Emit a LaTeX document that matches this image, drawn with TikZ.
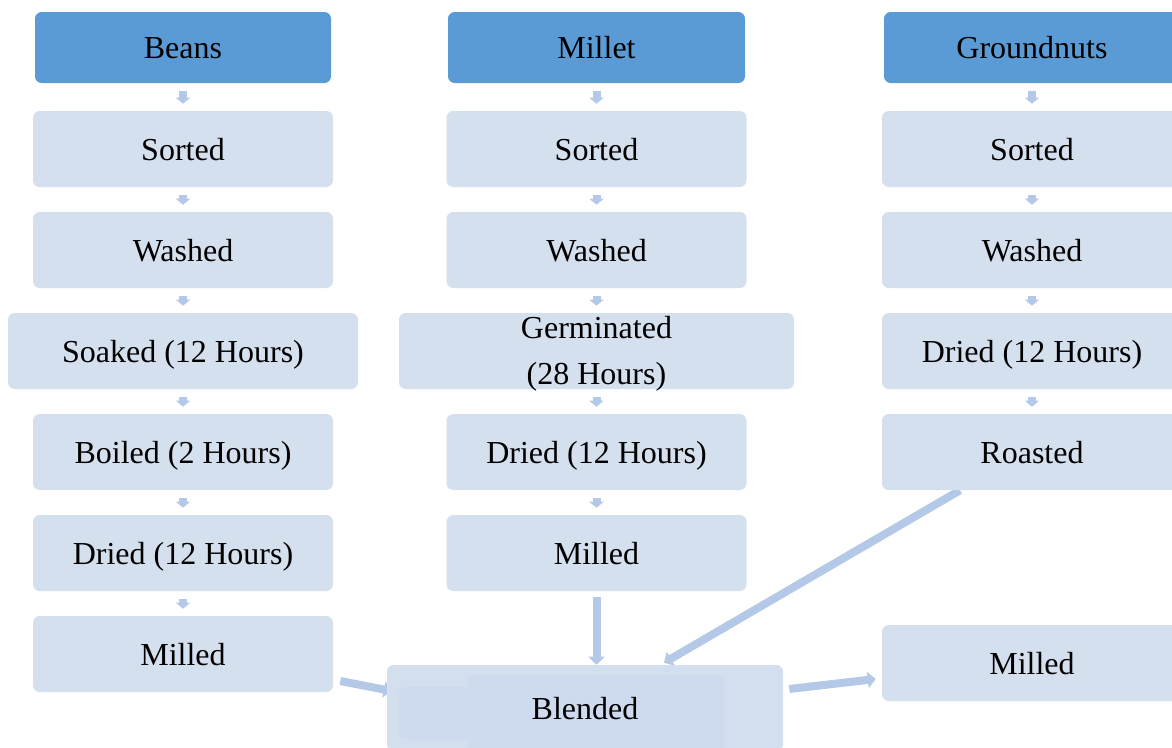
\documentclass[tikz,border=0pt]{standalone}
\usepackage{fontspec}
\setmainfont{Liberation Serif}
\usetikzlibrary{arrows.meta,backgrounds}
\definecolor{hdr}{HTML}{5B9BD5}
\definecolor{lite}{HTML}{D5E0EF}
\definecolor{arr}{HTML}{B4C8E7}
\definecolor{blendA}{HTML}{D3DEEF}
\definecolor{blendB}{HTML}{CEDAED}
\begin{document}
\begin{tikzpicture}[x=0.75pt,y=-0.75pt,
  base/.style={rounded corners=5pt, inner sep=0pt, align=center,
    font=\fontsize{24}{34.5}\selectfont, text=black},
  one/.style={text height=16.5pt, text depth=0pt},
  hbox/.style={base, one, fill=hdr, minimum width=222pt, minimum height=53.25pt},
  sbox/.style={base, one, fill=lite, minimum width=225pt, minimum height=57pt},
  sarrow/.style={draw=arr, line width=6pt, -{Triangle[width=10.5pt,length=4.5pt]},
    shorten <=6pt, shorten >=5.25pt},
  big/.style={draw=arr, line width=6pt, -{Triangle[width=12pt,length=6pt]}}]
\useasboundingbox (0,0) rectangle (1172,747);
% Beans column
\node[hbox] (b0) at (183,47.5) {Beans};
\node[sbox] (b1) at (183,149) {Sorted};
\node[sbox] (b2) at (183,250) {Washed};
\node[sbox, minimum width=262.5pt] (b3) at (183,351) {Soaked (12 Hours)};
\node[sbox] (b4) at (183,452) {Boiled (2 Hours)};
\node[sbox] (b5) at (183,553) {Dried (12 Hours)};
\node[sbox] (b6) at (183,654) {Milled};
% Millet column
\node[hbox, minimum width=222.75pt] (m0) at (596.5,47.5) {Millet};
\node[sbox] (m1) at (596.5,149) {Sorted};
\node[sbox] (m2) at (596.5,250) {Washed};
\node[sbox, minimum width=296.25pt] (m3) at (596.5,351) {};
\node[base] (m3t) at (596.5,354) {Germinated\\(28 Hours)};
\node[sbox] (m4) at (596.5,452) {Dried (12 Hours)};
\node[sbox] (m5) at (596.5,553) {Milled};
% Groundnuts column
\node[hbox] (g0) at (1032,47.5) {Groundnuts};
\node[sbox] (g1) at (1032,149) {Sorted};
\node[sbox] (g2) at (1032,250) {Washed};
\node[sbox] (g3) at (1032,351) {Dried (12 Hours)};
\node[sbox] (g4) at (1032,452) {Roasted};
\node[sbox] (gm) at (1032,663) {Milled};
% Blended
\node[base, fill=blendA, minimum width=297pt, minimum height=64.5pt] (blend) at (585,708) {};
\fill[blendB, rounded corners=5pt] (399,687) rectangle (700,739);
\fill[blendB, rounded corners=5pt] (468,675) rectangle (724,775);
\node[base, one] (blendtext) at (blend.center) {Blended};
% small step arrows
\foreach \a/\b in {b0/b1,b1/b2,b2/b3,b3/b4,b4/b5,b5/b6,
                   m0/m1,m1/m2,m2/m3,m3/m4,m4/m5,
                   g0/g1,g1/g2,g2/g3,g3/g4}
  \draw[sarrow] (\a) -- (\b);
% main connectors
\begin{scope}[on background layer]
\draw[big] ([shift={(7,27)}]b6.east) -- ([shift={(5,-17)}]blend.west);
\draw[big] ([shift={(0,6)}]m5.south) -- (m5.south |- blend.north);
\draw[big] ([shift={(-72,0)}]g4.south) -- ([shift={(79,-2)}]blend.north);
\draw[big] ([shift={(6,-19)}]blend.east) -- ([shift={(-6,16)}]gm.west);
\end{scope}
\end{tikzpicture}
\end{document}
